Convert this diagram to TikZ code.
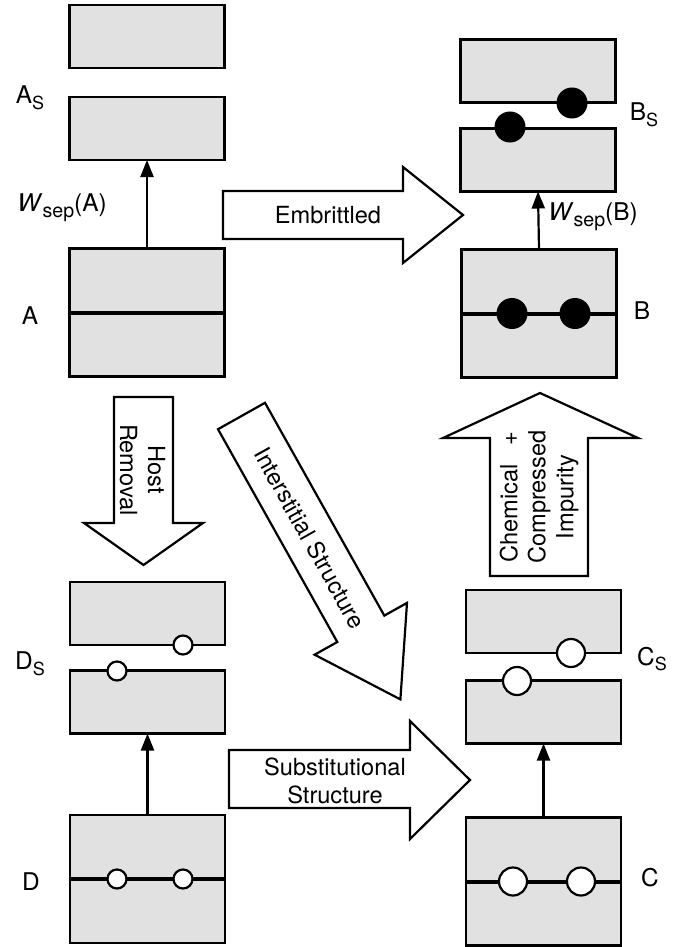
\documentclass[tikz,border=0pt]{standalone}
\usepackage{fontspec}
\setmainfont{TeX Gyre Heros}
\usetikzlibrary{arrows.meta}
\definecolor{slabgray}{RGB}{225,225,225}
\newcommand\lowsub[2][9]{\raisebox{-0.45ex}{\fontsize{#1}{10}\selectfont #2}}
\tikzset{
  slab/.style={draw=black, fill=slabgray, line width=1.2pt, rectangle, inner sep=0pt, outer sep=0pt, minimum width=77.5pt},
  smallslab/.style={slab, minimum height=31.5pt},
  bigslab/.style={slab, minimum height=64pt},
  iface/.style={line width=2pt},
  sepline/.style={line width=1.1pt, -{Triangle[length=8.5pt,width=6.5pt]}},
  blockarrow/.style={draw=black, fill=white, line width=1.1pt, line join=miter},
  arrowtext/.style={font=\fontsize{11.8}{14}\selectfont, align=center, inner sep=0pt},
  lbl/.style={font=\fontsize{12.2}{14}\selectfont, inner sep=0pt},
  bdot/.style={circle, fill=black, draw=black, line width=1pt, inner sep=0pt, minimum size=14.5pt},
  wdot/.style={circle, fill=white, draw=black, line width=1.1pt, inner sep=0pt, minimum size=14pt},
  sdot/.style={circle, fill=white, draw=black, line width=1.1pt, inner sep=0pt, minimum size=9.5pt}
}
\begin{document}
\begin{tikzpicture}[x=0.5pt, y=-0.5pt]
\useasboundingbox (0,0) rectangle (677,947);

% ---------- A column ----------
\node[smallslab] (As1) at (147,36.5) {};
\node[smallslab] (As2) at (147,128.5) {};
\node[bigslab] (A) at (147,312.5) {};
\draw[iface] (A.west) -- (A.east);
\draw[sepline] (A.north) -- (As2.south);
\node[lbl] (lAs) at (30,98) {A\lowsub{S}};
\node[lbl] (lA) at (30,316) {A};
\node[lbl, anchor=west] (lWA) at (17,208) {\textit{W}\lowsub[9.8]{sep}(A)};

% ---------- B column ----------
\node[smallslab] (Bs1) at (538,71) {};
\node[smallslab] (Bs2) at (538,160) {};
\node[bigslab] (B) at (539,313.5) {};
\draw[iface] (B.west) -- (B.east);
\draw[sepline] (B.north) -- (Bs2.south);
\node[bdot] (bs1) at (572,103) {};
\node[bdot] (bs2) at (510,127) {};
\node[bdot] (b1) at (512,313.5) {};
\node[bdot] (b2) at (575,313.5) {};
\node[lbl] (lBs) at (644,115) {B\lowsub{S}};
\node[lbl] (lB) at (642,311) {B};
\node[lbl, anchor=west] (lWB) at (548,217) {\textit{W}\lowsub[9.8]{sep}(B)};

% ---------- D column ----------
\node[smallslab] (Ds1) at (147.5,613.5) {};
\node[smallslab] (Ds2) at (147.5,702) {};
\node[bigslab] (D) at (147.5,879) {};
\draw[iface] (D.west) -- (D.east);
\draw[sepline] (D.north) -- (Ds2.south);
\node[sdot] (ds1) at (183,645) {};
\node[sdot] (ds2) at (117,671) {};
\node[sdot] (d1) at (117,879) {};
\node[sdot] (d2) at (183,879) {};
\node[lbl] (lDs) at (30,664) {D\lowsub{S}};
\node[lbl] (lD) at (31,882) {D};

% ---------- C column ----------
\node[smallslab] (Cs1) at (543.5,621.5) {};
\node[smallslab] (Cs2) at (543.5,712) {};
\node[bigslab] (C) at (543.5,881.5) {};
\draw[iface] (C.west) -- (C.east);
\draw[sepline] (C.north) -- (Cs2.south);
\node[wdot] (cs1) at (571,653) {};
\node[wdot] (cs2) at (517,681) {};
\node[wdot] (c1) at (513,881.5) {};
\node[wdot] (c2) at (581,881.5) {};
\node[lbl] (lCs) at (652,659) {C\lowsub{S}};
\node[lbl] (lC) at (650,878) {C};

% ---------- block arrows ----------
\draw[blockarrow] (223,191) -- (403,191) -- (403,167) -- (463,215) -- (403,263) -- (403,239) -- (223,239) -- cycle;
\node[arrowtext] (tEmb) at (328,215) {Embrittled};

\draw[blockarrow] (114,397) -- (173,397) -- (173,523) -- (203,523) -- (143.5,565) -- (84,523) -- (114,523) -- cycle;
\node[arrowtext, rotate=-90] (tHost) at (142.5,470) {Host\\Removal};

\draw[blockarrow] (490,576) -- (588,576) -- (588,438) -- (638,438) -- (540,393) -- (443,438) -- (490,438) -- cycle;
\node[arrowtext, rotate=90] (tChem) at (539,497) {Chemical\hspace{0.8em}+\\Compressed\\Impurity};

\draw[blockarrow] (229,750) -- (410,750) -- (410,721) -- (470,780) -- (410,839) -- (410,808) -- (229,808) -- cycle;
\node[arrowtext] (tSub) at (335,781) {Substitutional\\Structure};

\draw[blockarrow] (265,402.8) -- (384.3,615.6) -- (407,602.9) -- (400.4,699.4) -- (314.6,654.7) -- (337.3,642) -- (218,429.2) -- cycle;
\node[arrowtext, rotate=-60.8] (tInt) at (310,538) {Interstitial Structure};
\end{tikzpicture}
\end{document}
